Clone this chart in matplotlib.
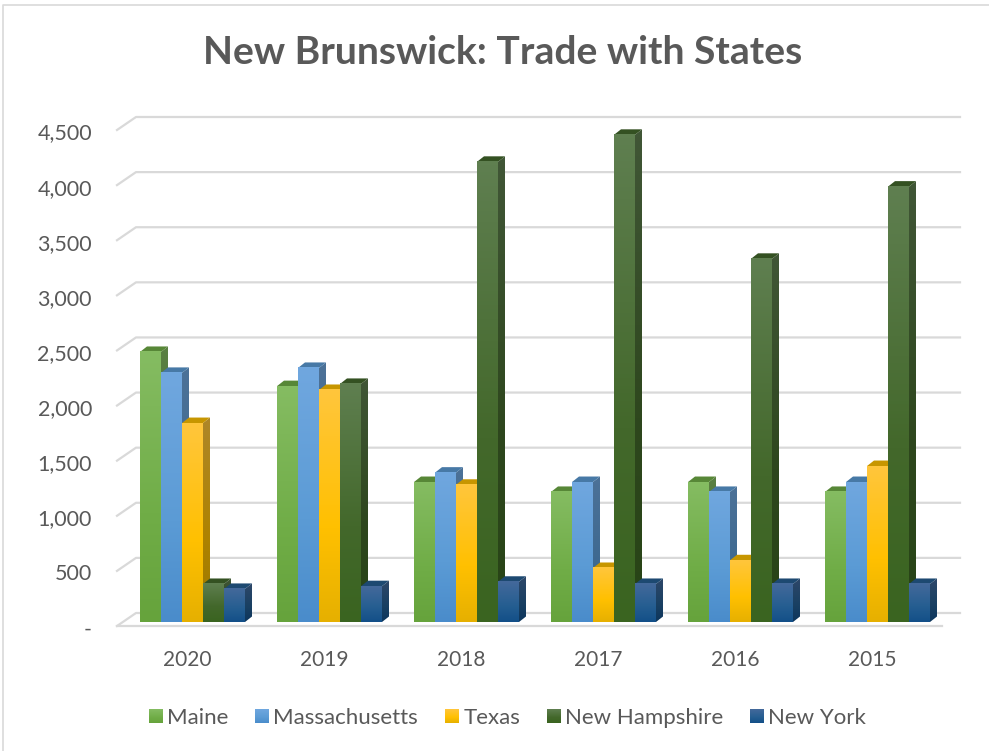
import numpy as np
import matplotlib
matplotlib.use("Agg")
import matplotlib.pyplot as plt
from matplotlib.colors import LinearSegmentedColormap
from matplotlib.patches import Polygon, Patch
from matplotlib.legend_handler import HandlerBase
from matplotlib.image import BboxImage
from matplotlib.transforms import Bbox, TransformedBbox, ScaledTranslation

plt.rcParams['font.family'] = ['Lato', 'DejaVu Sans']

years = ['2020', '2019', '2018', '2017', '2016', '2015']
maine = [2450, 2140, 1270, 1180, 1270, 1180]
massachusetts = [2260, 2305, 1355, 1270, 1180, 1270]
texas = [1805, 2105, 1245, 490, 560, 1415]
new_hampshire = [345, 2160, 4175, 4420, 3295, 3950]
new_york = [300, 325, 365, 345, 345, 345]
y_ticks = [0, 500, 1000, 1500, 2000, 2500, 3000, 3500, 4000, 4500]
y_labels = ['-', '500', '1,000', '1,500', '2,000', '2,500', '3,000', '3,500', '4,000', '4,500']

series = [
    ('Maine', maine, ['#85bc62', '#70ad47', '#66a33c']),
    ('Massachusetts', massachusetts, ['#70a7df', '#5b9bd5', '#4a8ccb']),
    ('Texas', texas, ['#ffc63c', '#ffc000', '#e6b000']),
    ('New Hampshire', new_hampshire, ['#5f7f50', '#43682b', '#3a6420']),
    ('New York', new_york, ['#44699b', '#255e91', '#134f88']),
]

W, H, DPI = 989, 751, 100
fig = plt.figure(figsize=(W / DPI, H / DPI), dpi=DPI, facecolor='white')
# pixel frame of the plot: value 0 at y=622, value 4500 at y=126; group pitch 137
px_left, px_right, px_bottom, px_top = 117, 962, 622, 126
ax = fig.add_axes([px_left / W, 1 - px_bottom / H, (px_right - px_left) / W, (px_bottom - px_top) / H])
ax.patch.set_alpha(0)
pitch = 137.0
x0_center = 192.5
ax.set_xlim((px_left - x0_center) / pitch, (px_right - x0_center) / pitch)
ax.set_ylim(0, 4500)
for s in ax.spines.values():
    s.set_visible(False)
ux = 1 / pitch
uy = 4500 / (px_bottom - px_top)
dx, dy = 7 * ux, 5.5 * uy
bw = 21 * ux

# walls and floor
grid_c = '#d9d9d9'
xb0, xb1 = (136 - x0_center) * ux, (960 - x0_center) * ux
xf0, xf1 = (117 - x0_center) * ux, (942 - x0_center) * ux
back = 9 * uy
front = -4 * uy
for v in y_ticks:
    ax.plot([xf0, xb0, xb1], [v + front, v + back, v + back], color=grid_c, lw=1.6, zorder=1, clip_on=False)
ax.plot([xf0, xf1], [front, front], color=grid_c, lw=1.6, zorder=1, clip_on=False)


def shade(hexes, k=1.0):
    cols = [tuple(c * k for c in matplotlib.colors.to_rgb(h)) for h in hexes]
    return LinearSegmentedColormap.from_list('g', list(zip([0, 0.6, 1], cols)))


grad = np.linspace(0, 1, 128).reshape(-1, 1)
z = 2
for i, yr in enumerate(years):
    for j, (name, vals, cols) in enumerate(series):
        left = i + (j - 2.5) * bw
        v = vals[i]
        right = left + bw
        # side face
        im = ax.imshow(grad, extent=(right, right + dx, 0, v + dy), origin='upper', aspect='auto',
                       cmap=shade(cols, 0.68), zorder=z)
        side = Polygon([(right, 0), (right + dx, dy), (right + dx, v + dy), (right, v)], transform=ax.transData,
                       fc='none', ec='none', zorder=z)
        ax.add_patch(side)
        im.set_clip_path(side)
        # top face
        ax.add_patch(Polygon([(left, v), (left + dx, v + dy), (right + dx, v + dy), (right, v)],
                             fc=tuple(c * 0.78 for c in matplotlib.colors.to_rgb(cols[1])), ec='none', zorder=z + 1))
        # front face
        ax.imshow(grad, extent=(left, right, 0, v), origin='upper', aspect='auto', cmap=shade(cols), zorder=z + 2)
        z += 3

ax.set_xlim((px_left - x0_center) / pitch, (px_right - x0_center) / pitch)
ax.set_ylim(0, 4500)
ax.set_xticks(np.arange(len(years)))
ax.set_xticklabels(years)
ax.set_yticks(y_ticks)
ax.set_yticklabels(y_labels)
ax.tick_params(length=0, labelcolor='#595959')
ax.tick_params(axis='x', pad=20.5, labelsize=15)
ax.tick_params(axis='y', pad=18, labelsize=15.5)
for lbl in ax.get_yticklabels():
    lbl.set_transform(lbl.get_transform() + ScaledTranslation(0, -4 / 72, fig.dpi_scale_trans))
for lbl in ax.get_xticklabels():
    lbl.set_transform(lbl.get_transform() + ScaledTranslation(-4 / 72, 0, fig.dpi_scale_trans))

fig.text(503 / W, 1 - 53 / H, 'New Brunswick: Trade with States', ha='center', va='center',
         fontsize=28.1, fontweight='bold', color='#595959')


class GradHandler(HandlerBase):
    def create_artists(self, legend, orig, xd, yd, width, height, fontsize, trans):
        bb = Bbox.from_bounds(-xd, -yd + (height - 10) / 2, 10, 10)
        img = BboxImage(TransformedBbox(bb, trans), cmap=orig.grad_cmap, interpolation='bilinear', origin='upper')
        img.set_data(grad)
        return [img]


handles = []
for name, vals, cols in series:
    p = Patch(facecolor=cols[1], label=name)
    p.grad_cmap = shade(cols)
    handles.append(p)
fig.legend(handles=handles, loc='center', bbox_to_anchor=(507.5 / W, 1 - 717.5 / H), ncol=5, frameon=False,
           fontsize=16, labelcolor='#595959', handler_map={Patch: GradHandler()},
           handlelength=0.625, handletextpad=0.2, columnspacing=1.2)

# chart frame
fig.add_artist(plt.Line2D([2.5 / W, 2.5 / W, 1.0], [1 - 751 / H, 1 - 4.5 / H, 1 - 4.5 / H],
                          color=grid_c, lw=1.2, transform=fig.transFigure))

fig.savefig('out.png', dpi=DPI)
